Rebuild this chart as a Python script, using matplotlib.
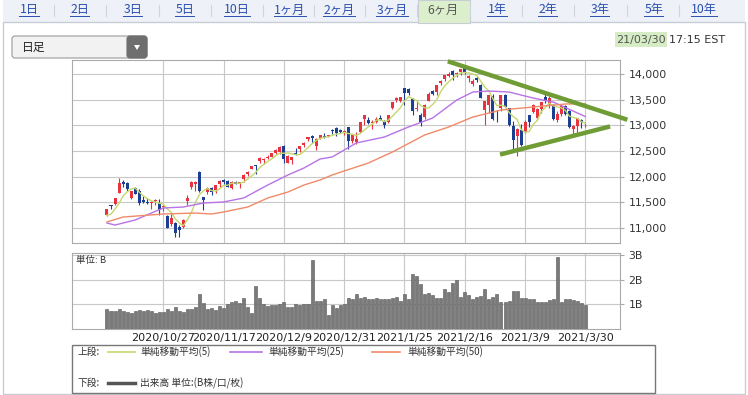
import numpy as np
import pandas as pd
import matplotlib
matplotlib.use('Agg')
import matplotlib.pyplot as plt
from matplotlib.patches import Rectangle, FancyBboxPatch, Polygon

plt.rcParams['font.family'] = ['DejaVu Sans', 'Noto Sans CJK JP']
JP = ['Noto Sans CJK JP', 'DejaVu Sans']

W, H = 748, 395

# daily candles, 2020/10/07 .. 2021/03/30 (120 sessions)
opens = [11260, 11440, 11460, 11690, 11900, 11880, 11580, 11780, 11720, 11540,
         11510, 11490, 11520, 11480, 11400, 11230, 11070, 11100, 11010, 11020,
         11530, 11800, 11860, 12100, 11600, 11700, 11780, 11740, 11850, 11930,
         11920, 11780, 11900, 11880, 11950, 12050, 12150, 12220, 12300, 12320,
         12360, 12390, 12460, 12480, 12590, 12270, 12330, 12460, 12530, 12610,
         12730, 12800, 12600, 12760, 12800, 12790, 12910, 12950, 12900, 12880,
         12960, 12690, 12670, 12870, 13120, 13100, 13050, 13060, 13150, 13080,
         13070, 13330, 13490, 13480, 13720, 13700, 13520, 13310, 13210, 13160,
         13480, 13670, 13640, 13830, 13900, 13960, 14060, 14000, 14040, 14140,
         13930, 13810, 13920, 13790, 13300, 13400, 13580, 13200, 13340, 13600,
         13330, 12980, 12800, 12900, 12880, 13200, 13260, 13140, 13310, 13550,
         13420, 13390, 13110, 13220, 13380, 13270, 12920, 12990, 13100, 13040]
highs = [11380, 11450, 11580, 11970, 11940, 11890, 11730, 11790, 11760, 11620,
         11580, 11520, 11560, 11560, 11440, 11260, 11270, 11120, 11050, 11180,
         11650, 11920, 11920, 12110, 11610, 11800, 11800, 11840, 11940, 11960,
         11940, 11920, 11920, 11900, 12060, 12110, 12210, 12230, 12380, 12360,
         12430, 12470, 12540, 12590, 12610, 12420, 12380, 12550, 12600, 12670,
         12770, 12810, 12750, 12820, 12850, 12810, 12930, 12970, 12920, 12900,
         12960, 12830, 12870, 13070, 13210, 13160, 13110, 13160, 13200, 13100,
         13200, 13460, 13560, 13550, 13730, 13730, 13530, 13500, 13250, 13410,
         13640, 13680, 13780, 13880, 13990, 14040, 14070, 14040, 14100, 14175,
         13990, 13900, 13970, 13800, 13480, 13600, 13620, 13290, 13590, 13610,
         13340, 13090, 12940, 13030, 13110, 13210, 13420, 13330, 13460, 13620,
         13570, 13410, 13270, 13410, 13400, 13290, 13000, 13150, 13120, 13070]
lows = [11240, 11370, 11450, 11680, 11800, 11720, 11570, 11660, 11450, 11490,
        11470, 11380, 11450, 11250, 11330, 11000, 11030, 10820, 10830, 11000,
        11450, 11760, 11730, 11700, 11350, 11660, 11650, 11690, 11790, 11850,
        11800, 11760, 11850, 11780, 11890, 12010, 12140, 12060, 12270, 12250,
        12350, 12380, 12450, 12440, 12270, 12260, 12250, 12430, 12480, 12580,
        12700, 12650, 12510, 12730, 12760, 12770, 12830, 12800, 12860, 12820,
        12540, 12660, 12630, 12860, 13000, 13020, 12930, 13040, 13110, 12950,
        13040, 13310, 13460, 13450, 13400, 13590, 13210, 13280, 12990, 13120,
        13470, 13590, 13600, 13780, 13870, 13950, 13880, 13940, 13990, 14010,
        13840, 13770, 13850, 13530, 13000, 13250, 13100, 13060, 13280, 13350,
        12990, 12520, 12400, 12600, 12860, 12960, 13250, 13100, 13250, 13440,
        13330, 13110, 13060, 13190, 13200, 12950, 12810, 12850, 12950, 12960]
closes = [11365, 11421, 11580, 11876, 11864, 11769, 11714, 11672, 11479, 11516,
          11485, 11506, 11548, 11359, 11431, 11005, 11186, 10912, 10958, 11161,
          11591, 11891, 11895, 11714, 11554, 11786, 11710, 11829, 11924, 11899,
          11802, 11905, 11855, 11881, 12037, 12094, 12206, 12199, 12355, 12349,
          12377, 12464, 12520, 12583, 12339, 12406, 12378, 12440, 12595, 12658,
          12765, 12756, 12743, 12808, 12771, 12805, 12899, 12850, 12870, 12888,
          12698, 12819, 12741, 13067, 13202, 13036, 13072, 13129, 13113, 12999,
          13197, 13457, 13531, 13543, 13636, 13626, 13271, 13337, 13071, 13403,
          13613, 13611, 13778, 13856, 13988, 14008, 13973, 14026, 14095, 14048,
          13965, 13865, 13874, 13533, 13465, 13598, 13119, 13192, 13589, 13359,
          12998, 12723, 12920, 12609, 13074, 13069, 13399, 13320, 13460, 13472,
          13525, 13116, 13215, 13378, 13228, 12962, 12978, 13139, 13060, 13045]
prior_closes = [11326, 11075, 11332, 11155]  # 4 sessions before the window (MA5)

# volume, billions
volumes = [0.83, 0.72, 0.72, 0.83, 0.72, 0.70, 0.65, 0.72, 0.76, 0.75,
           0.76, 0.72, 0.65, 0.68, 0.70, 0.83, 0.75, 0.89, 0.72, 0.70,
           0.83, 0.82, 0.89, 1.42, 1.07, 0.82, 0.86, 0.79, 0.93, 0.86,
           1.00, 1.10, 1.14, 1.07, 1.28, 0.90, 0.65, 1.76, 1.28, 1.00,
           0.93, 0.96, 0.96, 1.00, 1.10, 0.90, 0.89, 1.00, 0.96, 1.00,
           1.00, 2.80, 1.14, 1.14, 1.24, 0.58, 0.96, 0.86, 0.97, 1.00,
           1.28, 1.21, 1.44, 1.25, 1.31, 1.24, 1.24, 1.28, 1.21, 1.24,
           1.21, 1.28, 1.32, 1.14, 1.44, 1.24, 2.25, 2.18, 1.83, 1.42,
           1.46, 1.38, 1.28, 1.25, 1.65, 1.51, 1.86, 1.99, 1.32, 1.49,
           1.38, 1.24, 1.31, 1.35, 1.65, 1.24, 1.32, 1.44, 1.10, 1.10,
           1.14, 1.56, 1.56, 1.28, 1.28, 1.21, 1.21, 1.10, 1.11, 1.10,
           1.17, 1.21, 2.94, 1.11, 1.21, 1.21, 1.18, 1.14, 1.07, 0.98]

# moving averages (session index, value)
ma25_idx = [0, 2, 7, 14, 19, 24, 29, 34, 40, 45, 49, 53, 56, 62, 69, 75, 81, 87, 91, 95, 100, 106, 111, 119]
ma25_val = [11097, 11058, 11156, 11390, 11409, 11487, 11507, 11585, 11838, 12033, 12169, 12344,
            12383, 12656, 12773, 12968, 13143, 13494, 13649, 13669, 13649, 13532, 13454, 13170]
ma50_idx = [0, 4, 14, 22, 26, 29, 35, 40, 45, 49, 53, 56, 65, 71, 79, 85, 91, 98, 106, 114, 119]
ma50_val = [11117, 11214, 11273, 11292, 11273, 11312, 11409, 11585, 11701, 11838, 11935,
            12033, 12266, 12481, 12812, 12968, 13162, 13299, 13357, 13416, 13420]

# hand-drawn triangle lines
trend_hi_idx = [85.3, 128.9]
trend_hi_val = [14234, 13123]
trend_lo_idx = [98.3, 124.6]
trend_lo_val = [12442, 12968]

tick_idx = [14, 29, 44, 59, 74, 89, 104, 119]
tick_labels = ['2020/10/27', '2020/11/17', '2020/12/9', '2020/12/31',
               '2021/1/25', '2021/2/16', '2021/3/9', '2021/3/30']
price_ticks = [11000, 11500, 12000, 12500, 13000, 13500, 14000]
vol_ticks = [1, 2, 3]

tabs = ['1日', '2日', '3日', '5日', '10日', '1ヶ月', '2ヶ月', '3ヶ月', '6ヶ月', '1年', '2年', '3年', '5年', '10年']
tab_x = [29, 80, 133, 185, 237, 290, 339, 392, 443, 497, 548, 600, 654, 704]
selected = '6ヶ月'

RED, BLUE = '#e8333f', '#1c3f94'
C5, C25, C50 = '#c5d86d', '#b873e6', '#f08a68'
GRID = '#c8c8c8'

fig = plt.figure(figsize=(W / 100, H / 100), dpi=100)
bg = fig.add_axes([0, 0, 1, 1])
bg.set_xlim(0, W)
bg.set_ylim(H, 0)
bg.axis('off')

# tab bar + panel
bg.add_patch(Rectangle((3, 0), 742, 22, facecolor='#eef2f8', edgecolor='none'))
bg.add_patch(Rectangle((3, 22), 742, 372, facecolor='white', edgecolor='#c8cdd5', lw=1))
tab_texts = []
for i, (t, x) in enumerate(zip(tabs, tab_x)):
    if t == selected:
        bg.add_patch(Rectangle((418, 0), 52, 22.5, facecolor='#dcefcc', edgecolor='#c8cdd5', lw=0.8))
        bg.text(x, 10, t, ha='center', va='center', fontsize=8.8, color='#555555', family=JP)
    else:
        tab_texts.append(bg.text(x, 10, t, ha='center', va='center', fontsize=8.8,
                                 color='#2a4fb0', family=JP))
    if i < len(tabs) - 1:
        sx = (x + tab_x[i + 1]) / 2
        bg.plot([sx, sx], [5, 16], color='#d0d5dd', lw=0.8)

# dropdown
bg.add_patch(FancyBboxPatch((12, 36), 135, 22, boxstyle='round,pad=0,rounding_size=3',
                            facecolor='#f2f2f2', edgecolor='#9a9a9a', lw=0.8))
bg.add_patch(FancyBboxPatch((127, 36), 20, 22, boxstyle='round,pad=0,rounding_size=3',
                            facecolor='#6e6e6e', edgecolor='#6e6e6e', lw=0.8))
bg.add_patch(Polygon([(134, 45), (140, 45), (137, 50)], closed=True, facecolor='white', edgecolor='none'))
bg.text(22, 47.5, '日足', ha='left', va='center', fontsize=8.5, color='#222222', family=JP)

# timestamp
bg.add_patch(Rectangle((615, 32), 52, 15, facecolor='#d5ecc5', edgecolor='none'))
bg.text(641, 40, '21/03/30', ha='center', va='center', fontsize=8, color='#555555')
bg.text(669, 40, '17:15 EST', ha='left', va='center', fontsize=8, color='#333333')


def px_axes(x0, y0, x1, y1):
    return fig.add_axes([x0 / W, 1 - y1 / H, (x1 - x0) / W, (y1 - y0) / H])


ax = px_axes(72, 60, 620, 243)
axv = px_axes(72, 253, 620, 329)

idx = np.arange(len(closes))
o, h, l, c = map(np.array, (opens, highs, lows, closes))
col = np.where(c >= o, RED, BLUE)
ax.vlines(idx, l, h, colors=col, lw=0.8, zorder=3)
ax.bar(idx, np.maximum(np.abs(c - o), 10), bottom=np.minimum(o, c), width=0.75,
       color=col, linewidth=0, zorder=4)

ma5 = pd.Series(prior_closes + closes).rolling(5).mean().values[len(prior_closes):]
ax.plot(idx, ma5, color=C5, lw=1, zorder=5)
ax.plot(ma25_idx, ma25_val, color=C25, lw=1, zorder=5)
ax.plot(ma50_idx, ma50_val, color=C50, lw=1, zorder=5)

ax.plot(trend_hi_idx, trend_hi_val, color='#6f9c35', lw=3.2, clip_on=False, zorder=6)
ax.plot(trend_lo_idx, trend_lo_val, color='#6f9c35', lw=3.2, clip_on=False, zorder=6)

for a in (ax, axv):
    a.set_xlim(-8.7, 127.6)
    a.set_xticks(tick_idx)
    a.grid(True, color=GRID, lw=0.8)
    a.set_axisbelow(True)
    a.yaxis.tick_right()
    a.tick_params(axis='y', length=3, color='#aaaaaa', labelsize=7.8, labelcolor='#333333', pad=3)
    for s in a.spines.values():
        s.set_color('#aaaaaa')
        s.set_linewidth(0.8)

ax.set_ylim(10708, 14273)
ax.set_yticks(price_ticks)
ax.set_yticklabels([f'{v:,}' for v in price_ticks])
ax.tick_params(axis='x', length=0, labelbottom=False)

axv.bar(idx, volumes, width=0.75, color='#7a7a7a', edgecolor='#555555', linewidth=0.4, zorder=3)
axv.set_ylim(0, 3.1)
axv.set_yticks(vol_ticks)
axv.set_yticklabels([f'{v}B' for v in vol_ticks])
axv.set_xticklabels(tick_labels)
axv.tick_params(axis='x', length=0, labelsize=8, labelcolor='#222222', pad=3)
axv.text(0.008, 0.9, '単位: B', transform=axv.transAxes, ha='left', va='center',
         fontsize=6.8, color='#333333', family=JP)

# legend box
bg.add_patch(Rectangle((72, 345), 583, 48, facecolor='white', edgecolor='#777777', lw=1))
bg.text(78, 352, '上段:', ha='left', va='center', fontsize=7, color='#333333', family=JP)
legend_items = [(108, 135, 140, C5, '単純移動平均(5)'),
                (230, 262, 268, C25, '単純移動平均(25)'),
                (372, 400, 407, C50, '単純移動平均(50)')]
for x0, x1, tx, cc, lab in legend_items:
    bg.plot([x0, x1], [352, 352], color=cc, lw=1.2)
    bg.text(tx, 352, lab, ha='left', va='center', fontsize=7, color='#333333', family=JP)
bg.text(78, 383, '下段:', ha='left', va='center', fontsize=7, color='#333333', family=JP)
bg.plot([108, 135], [383, 383], color='#555555', lw=2.5)
bg.text(140, 383, '出来高 単位:(B株/口/枚)', ha='left', va='center', fontsize=7,
        color='#333333', family=JP)

# underline the link tabs
fig.canvas.draw()
inv = bg.transData.inverted()
for t in tab_texts:
    bb = t.get_window_extent()
    (xa, ya), (xb, yb) = inv.transform([(bb.x0, bb.y0), (bb.x1, bb.y1)])
    bg.plot([xa, xb], [max(ya, yb) - 0.5] * 2, color='#2a4fb0', lw=0.7)

fig.savefig('out.png', dpi=100)
